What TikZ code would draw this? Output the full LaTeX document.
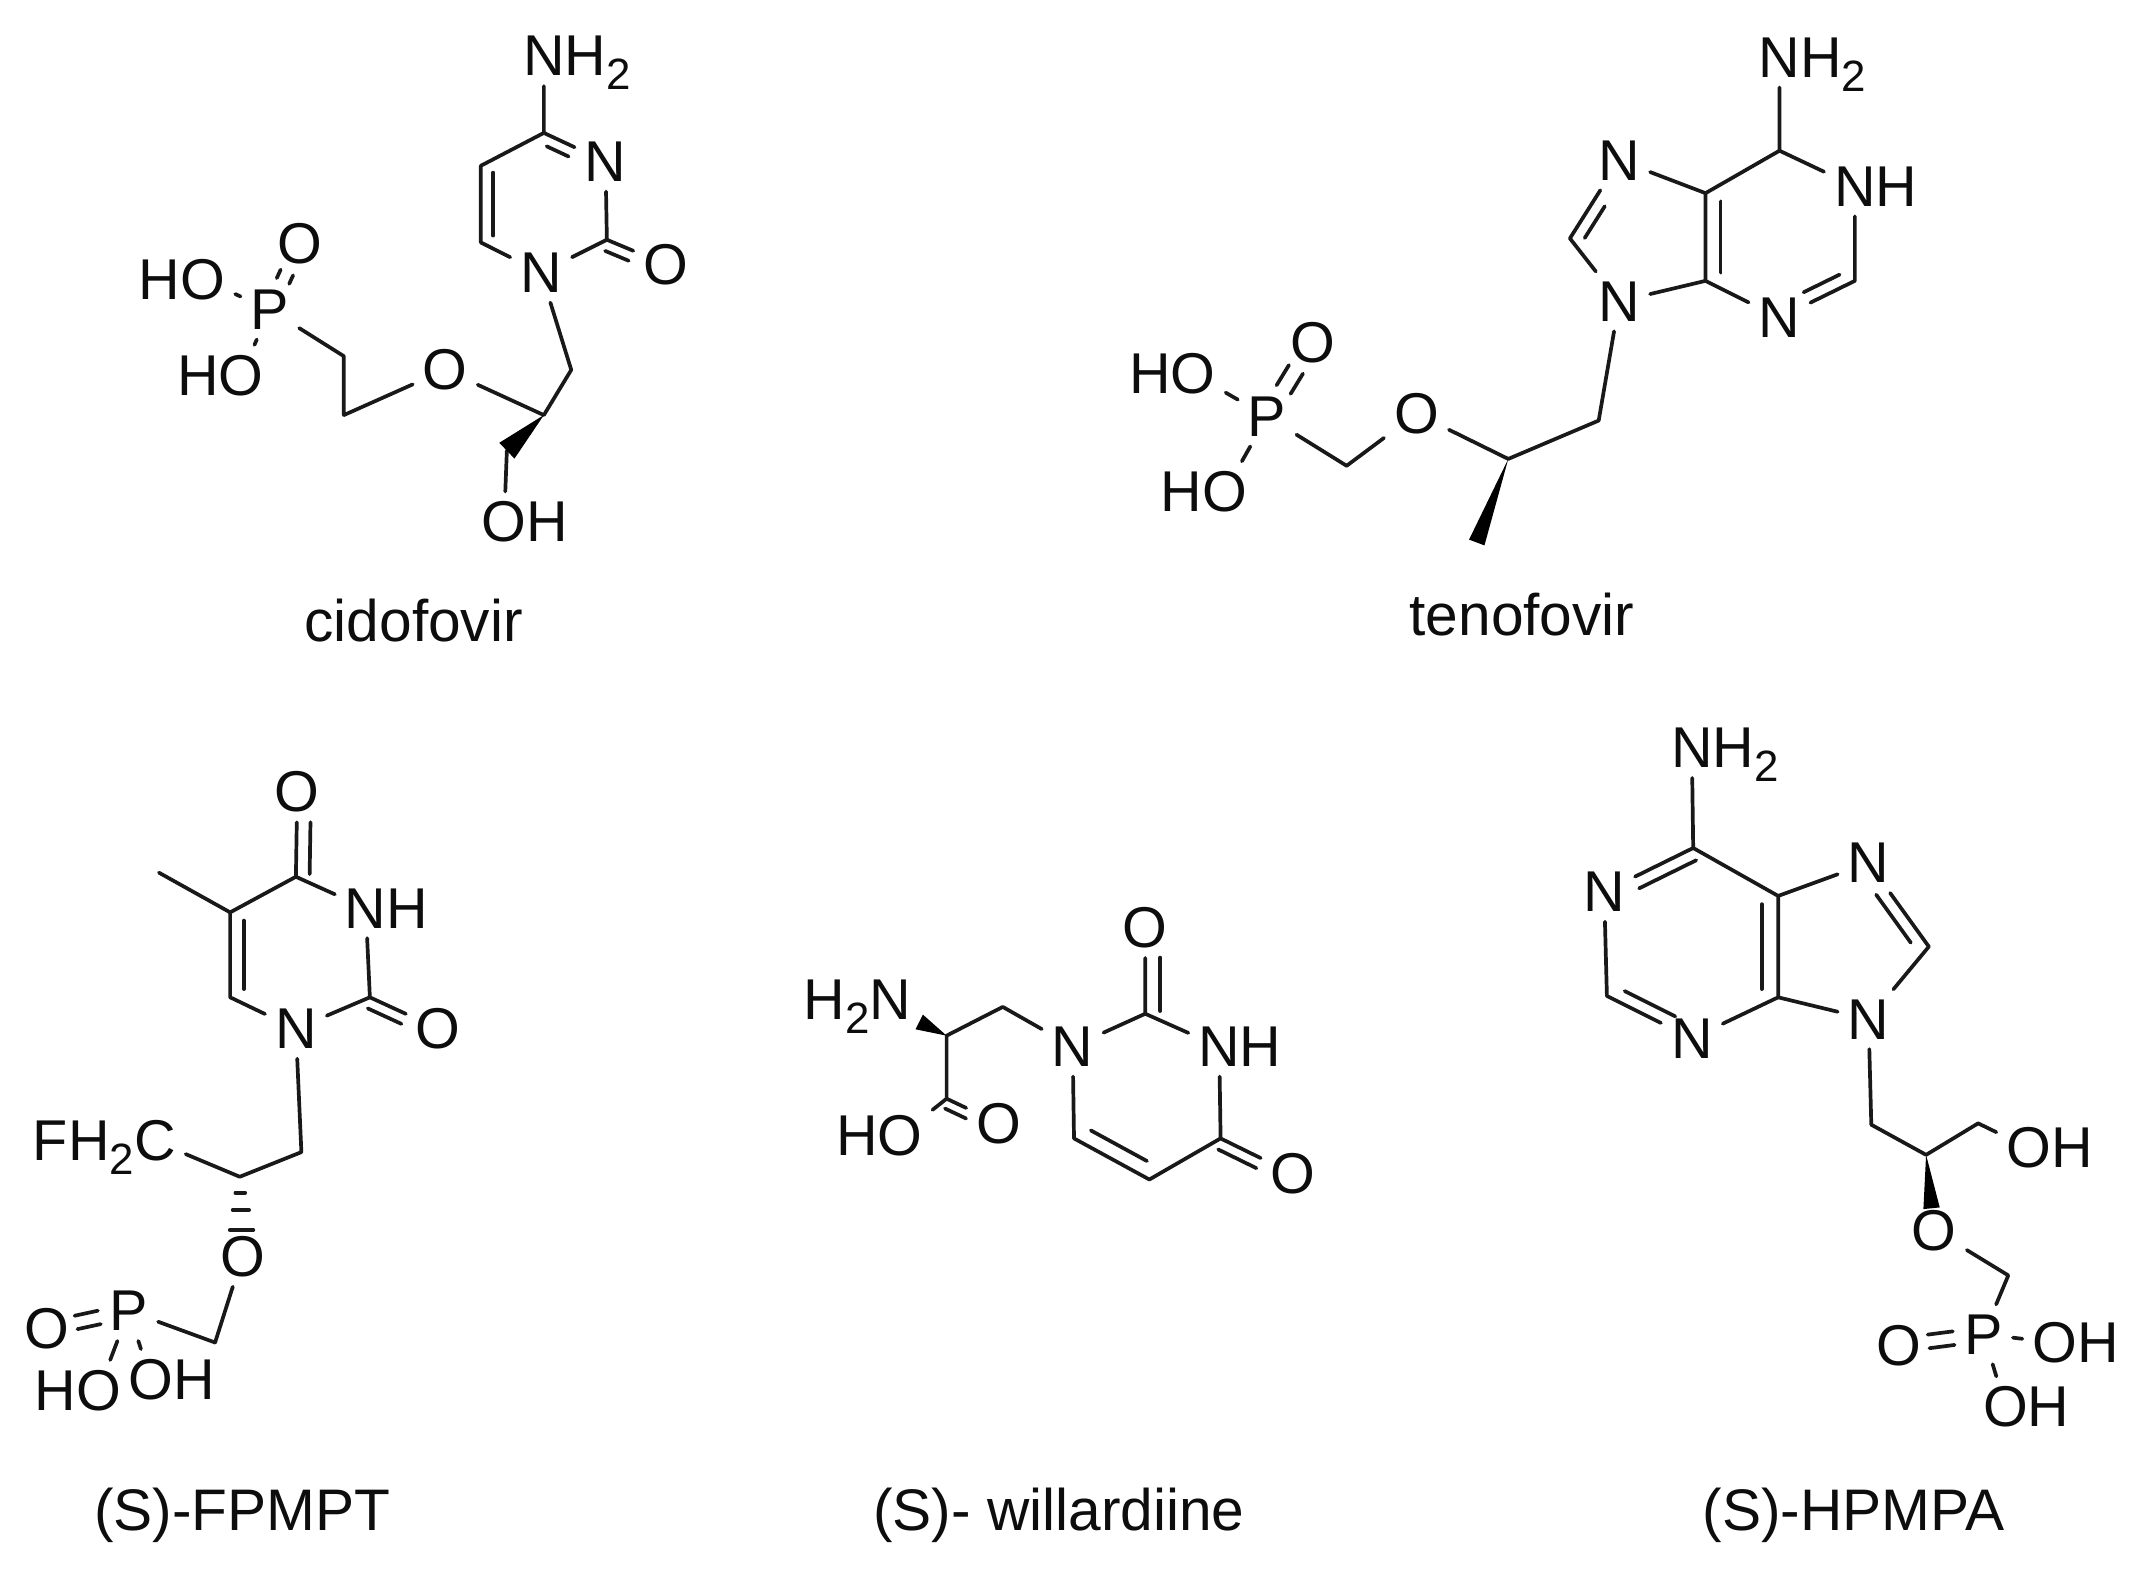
\documentclass[tikz,border=0pt]{standalone}
\usepackage{fontspec}
\setmainfont{Liberation Sans}
\usetikzlibrary{calc}
\tikzset{
	node_atom/.style = {
		inner sep=3.5pt,
		text=black!95,
		font=\fontsize{21}{25}\selectfont
	},
	node_name/.style = {
		inner sep=0pt,
		anchor=base,
		text=black!95,
		font=\fontsize{21.4}{25}\selectfont
	},
	bond/.style = {
		draw=black!90,
		line width=1.35pt,
		line cap=round,
		line join=round
	},
}
\newcommand{\subtwo}{\raisebox{-5pt}[0pt][0pt]{\fontsize{16}{16}\selectfont 2}}
\newcommand{\dbond}[5]{\draw[bond,shorten <=#4,shorten >=#5] ($(#1)!#3!90:(#2)$) -- ($(#2)!#3!-90:(#1)$);}
\newcommand{\wedgeb}[3]{\fill[black] (#1) -- ($(#2)!#3!90:(#1)$) -- ($(#2)!#3!-90:(#1)$) -- cycle;}
\newcommand{\hashb}[4]{\draw[bond] ($(#1)!#3!(#2)+(-#4,0)$) -- ($(#1)!#3!(#2)+(#4,0)$);}

\begin{document}
\begin{tikzpicture}[x=0.5pt,y=-0.5pt]
\useasboundingbox (0,0) rectangle (1568,1153);

\node [node_atom] (cd_nh2) at (397,41) {N\rlap{H\subtwo}};
\coordinate (cd_c4) at (397,97);
\node [node_atom] (cd_n3) at (442,118) {N};
\coordinate (cd_c2) at (443,175);
\node [node_atom] (cd_o2) at (486,193) {O};
\node [node_atom] (cd_n1) at (395,199) {N};
\coordinate (cd_c6) at (351,177);
\coordinate (cd_c5) at (351,121);
\coordinate (cd_ch2a) at (417,270);
\coordinate (cd_cs) at (397,303);
\node [node_atom] (cd_o1) at (325,270) {O};
\coordinate (cd_ch2b) at (251,303);
\coordinate (cd_ch2c) at (251,260);
\node [node_atom] (cd_p) at (197,226) {P};
\node [node_atom] (cd_o3) at (219,178) {O};
\node [node_atom] (cd_ho1) at (148,204) {\llap{H}O};
\node [node_atom] (cd_ho2) at (176,274) {\llap{H}O};
\coordinate (cd_ch2d) at (370,329);
\node [node_atom] (cd_oh) at (368,381) {O\rlap{H}};
\node [node_name] (cd_name) at (302,468) {cidofovir};
\draw[bond] (cd_nh2) -- (cd_c4) -- (cd_n3) -- (cd_c2) -- (cd_n1) -- (cd_c6) -- (cd_c5) -- (cd_c4);
\draw[bond] (cd_c2) -- (cd_o2);
\draw[bond] (cd_n1) -- (cd_ch2a) -- (cd_cs) -- (cd_o1) -- (cd_ch2b) -- (cd_ch2c) -- (cd_p);
\draw[bond] (cd_p) -- (cd_ho1);
\draw[bond] (cd_p) -- (cd_ho2);
\draw[bond] (cd_ch2d) -- (cd_oh);
\dbond{cd_n3}{cd_c4}{4pt}{13pt}{3pt}
\dbond{cd_c5}{cd_c6}{4.5pt}{2.5pt}{2.5pt}
\dbond{cd_o2}{cd_c2}{4pt}{13pt}{1pt}
\dbond{cd_p}{cd_o3}{2.5pt}{11.5pt}{11.5pt}
\dbond{cd_p}{cd_o3}{-2.5pt}{11.5pt}{11.5pt}
\wedgeb{cd_cs}{cd_ch2d}{4pt}

\node [node_atom] (tf_nh2) at (1299,42) {N\rlap{H\subtwo}};
\coordinate (tf_c6) at (1299,110);
\node [node_atom] (tf_n1) at (1354,136) {N\rlap{H}};
\coordinate (tf_c2) at (1354,205);
\node [node_atom] (tf_n3) at (1299,232) {N};
\coordinate (tf_c4) at (1245,205);
\coordinate (tf_c5) at (1245,141);
\node [node_atom] (tf_n7) at (1182,117) {N};
\coordinate (tf_c8) at (1146,174);
\node [node_atom] (tf_n9) at (1182,220) {N};
\coordinate (tf_ch2a) at (1167,307);
\coordinate (tf_cs) at (1101,335);
\coordinate (tf_ch3) at (1078,396);
\node [node_atom] (tf_o1) at (1034,302) {O};
\coordinate (tf_ch2b) at (983,340);
\node [node_atom] (tf_p) at (925,304) {P};
\node [node_atom] (tf_o3) at (958,250) {O};
\node [node_atom] (tf_ho1) at (871,273) {\llap{H}O};
\node [node_atom] (tf_ho2) at (894,359) {\llap{H}O};
\node [node_name] (tf_name) at (1111,464) {tenofovir};
\draw[bond] (tf_nh2) -- (tf_c6) -- (tf_n1) -- (tf_c2) -- (tf_n3) -- (tf_c4) -- (tf_c5) -- (tf_c6);
\draw[bond] (tf_c5) -- (tf_n7) -- (tf_c8) -- (tf_n9) -- (tf_c4);
\draw[bond] (tf_n9) -- (tf_ch2a) -- (tf_cs) -- (tf_o1) -- (tf_ch2b) -- (tf_p);
\draw[bond] (tf_p) -- (tf_ho1);
\draw[bond] (tf_p) -- (tf_ho2);
\dbond{tf_n7}{tf_c8}{4.5pt}{17pt}{3pt}
\dbond{tf_c5}{tf_c4}{5.5pt}{3pt}{3pt}
\dbond{tf_n3}{tf_c2}{4.5pt}{12pt}{4pt}
\dbond{tf_p}{tf_o3}{3pt}{11.5pt}{11.5pt}
\dbond{tf_p}{tf_o3}{-3pt}{11.5pt}{11.5pt}
\wedgeb{tf_cs}{tf_ch3}{3pt}

\node [node_atom] (fp_o4) at (217,578) {O};
\coordinate (fp_c4) at (216,640);
\node [node_atom] (fp_n3) at (267,663) {N\rlap{H}};
\coordinate (fp_c2) at (270,728);
\node [node_atom] (fp_o2) at (320,751) {O};
\node [node_atom] (fp_n1) at (216,751) {N};
\coordinate (fp_c6) at (168,728);
\coordinate (fp_c5) at (168,666);
\coordinate (fp_ch3) at (116,637);
\coordinate (fp_ch2a) at (220,841);
\coordinate (fp_cs) at (175,859);
\node [node_atom] (fp_fc) at (113,833) {\llap{FH\subtwo}C};
\node [node_atom] (fp_o1) at (177,917) {O};
\coordinate (fp_ch2b) at (157,980);
\node [node_atom] (fp_p) at (94,957) {P};
\node [node_atom] (fp_o3) at (34,970) {O};
\node [node_atom] (fp_ho) at (72,1015) {\llap{H}O};
\node [node_atom] (fp_oh) at (110,1007) {O\rlap{H}};
\node [node_name] (fp_name) at (177,1117) {(S)-FPMPT};
\draw[bond] (fp_o4) -- (fp_c4) -- (fp_n3) -- (fp_c2) -- (fp_n1) -- (fp_c6) -- (fp_c5) -- (fp_c4);
\draw[bond] (fp_c5) -- (fp_ch3);
\draw[bond] (fp_c2) -- (fp_o2);
\draw[bond] (fp_n1) -- (fp_ch2a) -- (fp_cs) -- (fp_fc);
\draw[bond] (fp_o1) -- (fp_ch2b) -- (fp_p);
\draw[bond] (fp_p) -- (fp_ho);
\draw[bond] (fp_p) -- (fp_oh);
\dbond{fp_o4}{fp_c4}{5pt}{11pt}{1pt}
\dbond{fp_c5}{fp_c6}{5pt}{3pt}{3pt}
\dbond{fp_o2}{fp_c2}{4pt}{13pt}{1pt}
\dbond{fp_p}{fp_o3}{2.5pt}{11pt}{11pt}
\dbond{fp_p}{fp_o3}{-2.5pt}{11pt}{11pt}
\hashb{fp_cs}{fp_o1}{0.2}{1.8pt}
\hashb{fp_cs}{fp_o1}{0.42}{3pt}
\hashb{fp_cs}{fp_o1}{0.67}{4.3pt}

\node [node_atom] (wl_o2) at (836,677) {O};
\coordinate (wl_c2) at (836,740);
\node [node_atom] (wl_n3) at (890,764) {N\rlap{H}};
\coordinate (wl_c4) at (891,831);
\node [node_atom] (wl_o4) at (944,857) {O};
\coordinate (wl_c5) at (839,861);
\coordinate (wl_c6) at (784,831);
\node [node_atom] (wl_n1) at (783,764) {N};
\coordinate (wl_ch2) at (732,735);
\coordinate (wl_cs) at (691,756);
\node [node_atom] (wl_nh2) at (650,730) {\llap{H\subtwo}N};
\coordinate (wl_tip) at (671,746);
\coordinate (wl_c1) at (691,802);
\node [node_atom] (wl_o1) at (729,820) {O};
\node [node_atom] (wl_ho) at (657,829) {\llap{H}O};
\node [node_name] (wl_name) at (773,1117) {(S)- willardiine};
\draw[bond] (wl_o2) -- (wl_c2) -- (wl_n3) -- (wl_c4) -- (wl_c5) -- (wl_c6) -- (wl_n1) -- (wl_c2);
\draw[bond] (wl_c4) -- (wl_o4);
\draw[bond] (wl_n1) -- (wl_ch2) -- (wl_cs) -- (wl_c1) -- (wl_o1);
\draw[bond] (wl_c1) -- (wl_ho);
\dbond{wl_o2}{wl_c2}{5.5pt}{11pt}{1pt}
\dbond{wl_c6}{wl_c5}{5.5pt}{4pt}{4pt}
\dbond{wl_o4}{wl_c4}{4pt}{13pt}{1pt}
\dbond{wl_o1}{wl_c1}{3.5pt}{11.5pt}{1pt}
\wedgeb{wl_cs}{wl_tip}{3pt}

\node [node_atom] (hp_nh2) at (1235,546) {N\rlap{H\subtwo}};
\coordinate (hp_c6) at (1236,619);
\node [node_atom] (hp_n1) at (1171,651) {N};
\coordinate (hp_c2) at (1173,727);
\node [node_atom] (hp_n3) at (1235,758) {N};
\coordinate (hp_c4) at (1298,728);
\coordinate (hp_c5) at (1298,654);
\node [node_atom] (hp_n7) at (1364,630) {N};
\coordinate (hp_c8) at (1408,691);
\node [node_atom] (hp_n9) at (1364,744) {N};
\coordinate (hp_ch2a) at (1366,821);
\coordinate (hp_cs) at (1406,843);
\coordinate (hp_ch2b) at (1444,820);
\node [node_atom] (hp_oh1) at (1481,838) {O\rlap{H}};
\node [node_atom] (hp_o1) at (1412,898) {O};
\coordinate (hp_tip) at (1410,882);
\coordinate (hp_ch2c) at (1466,931);
\node [node_atom] (hp_p) at (1448,974) {P};
\node [node_atom] (hp_o3) at (1386,982) {O};
\node [node_atom] (hp_oh2) at (1500,980) {O\rlap{H}};
\node [node_atom] (hp_oh3) at (1464,1027) {O\rlap{H}};
\node [node_name] (hp_name) at (1353,1117) {(S)-HPMPA};
\draw[bond] (hp_nh2) -- (hp_c6) -- (hp_n1) -- (hp_c2) -- (hp_n3) -- (hp_c4) -- (hp_c5) -- (hp_c6);
\draw[bond] (hp_c5) -- (hp_n7) -- (hp_c8) -- (hp_n9) -- (hp_c4);
\draw[bond] (hp_n9) -- (hp_ch2a) -- (hp_cs) -- (hp_ch2b) -- (hp_oh1);
\draw[bond] (hp_o1) -- (hp_ch2c) -- (hp_p);
\draw[bond] (hp_p) -- (hp_oh2);
\draw[bond] (hp_p) -- (hp_oh3);
\dbond{hp_c6}{hp_n1}{4.5pt}{1pt}{12pt}
\dbond{hp_c2}{hp_n3}{4.5pt}{5pt}{9pt}
\dbond{hp_c4}{hp_c5}{6pt}{3pt}{3pt}
\dbond{hp_c8}{hp_n7}{4.5pt}{5pt}{11pt}
\dbond{hp_p}{hp_o3}{2.5pt}{11pt}{11pt}
\dbond{hp_p}{hp_o3}{-2.5pt}{11pt}{11pt}
\wedgeb{hp_cs}{hp_tip}{3pt}
\end{tikzpicture}
\end{document}
